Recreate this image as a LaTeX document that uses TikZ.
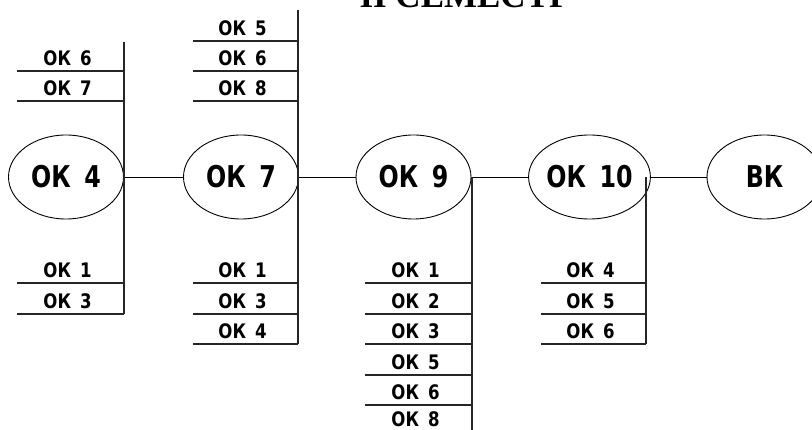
\documentclass[tikz,border=0pt]{standalone}
\usepackage{fontspec}
\usetikzlibrary{shapes.geometric}
\newfontfamily\lblfont[FakeStretch=0.92]{DejaVu Sans Condensed}
\newfontfamily\bigfont[FakeStretch=0.88]{DejaVu Sans Condensed}
\newfontfamily\ttlfont{Liberation Serif}
\newcommand\okgap{\hspace{0.45em}}
\begin{document}
\begin{tikzpicture}[x=1pt,y=-1pt,
  oval/.style={ellipse,draw,line width=0.9pt,minimum width=115pt,minimum height=84pt,inner sep=0pt,
    font=\bigfont\bfseries\fontsize{30}{30}\selectfont},
  lbl/.style={anchor=base,inner sep=0pt,font=\lblfont\bfseries\fontsize{20}{20}\selectfont},
  rowline/.style={line width=1.5pt,draw=black!85},
  conn/.style={line width=0.9pt}]
\useasboundingbox (0,0) rectangle (812,430);
\clip (0,0) rectangle (812,430);
\fill[white] (0,0) rectangle (812,430);
% title (cut off by the top edge, as in the reference)
\node[anchor=base,inner sep=0pt,font=\ttlfont\bfseries\fontsize{35}{35}\selectfont] (title) at (465,8) {II СЕМЕСТР};
% ellipses
\node[oval] (ok4) at (66,177) {ОК\okgap 4};
\node[oval] (ok7) at (241,177) {ОК\okgap 7};
\node[oval] (ok9) at (413.5,177) {ОК\okgap 9};
\node[oval] (ok10) at (589.5,177) {ОК\okgap 10};
\node[oval] (bk) at (764.5,177) {ВК};
\draw[conn] (ok4) -- (ok7);
\draw[conn] (ok7) -- (ok9);
\draw[conn] (ok9) -- (ok10);
\draw[conn] (ok10) -- (bk);
% group of OK 4
\coordinate (at) at (124,42); \coordinate (ab) at (124,314);
\draw[rowline] (at) -- (ab);
\foreach \y/\t [count=\i] in {71/6,101/7,283/1,314/3} {
  \coordinate (al\i) at (17,\y); \coordinate (ar\i) at (124,\y);
  \draw[rowline] (al\i) -- (ar\i);
  \node[lbl] (atx\i) at (67.5,\y-5) {ОК\okgap\t};
}
% group of OK 7
\coordinate (bt) at (298,10); \coordinate (bb) at (298,344);
\draw[rowline] (bt) -- (bb);
\foreach \y/\t [count=\i] in {41/5,71/6,101/8,283/1,314/3,344/4} {
  \coordinate (bl\i) at (193,\y); \coordinate (br\i) at (298,\y);
  \draw[rowline] (bl\i) -- (br\i);
  \node[lbl] (btx\i) at (242.5,\y-5) {ОК\okgap\t};
}
% group of OK 9
\coordinate (ct) at (472,177); \coordinate (cb) at (472,430);
\draw[rowline] (ct) -- (cb);
\foreach \y/\t [count=\i] in {283/1,314/2,344/3,375/5,405/6} {
  \coordinate (cl\i) at (365,\y); \coordinate (cr\i) at (472,\y);
  \draw[rowline] (cl\i) -- (cr\i);
  \node[lbl] (ctx\i) at (415.5,\y-5) {ОК\okgap\t};
}
\node[lbl] (ctx6) at (415.5,427) {ОК\okgap 8};
% group of OK 10
\coordinate (dt) at (646,177); \coordinate (db) at (646,344);
\draw[rowline] (dt) -- (db);
\foreach \y/\t [count=\i] in {283/4,314/5,344/6} {
  \coordinate (dl\i) at (541,\y); \coordinate (dr\i) at (646,\y);
  \draw[rowline] (dl\i) -- (dr\i);
  \node[lbl] (dtx\i) at (590.5,\y-5) {ОК\okgap\t};
}
\end{tikzpicture}
\end{document}
